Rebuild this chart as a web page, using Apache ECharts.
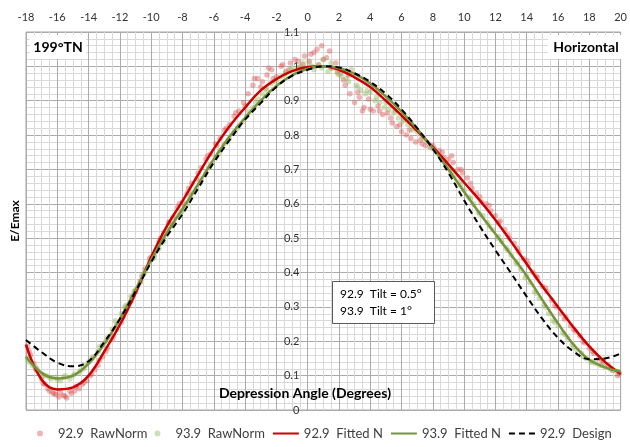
<!DOCTYPE html>
<html>
<head>
<meta charset="utf-8">
<script src="https://cdn.jsdelivr.net/npm/echarts@6/dist/echarts.min.js"></script>
<style>
html, body { margin: 0; padding: 0; background: #fff; }
#chart { width: 630px; height: 447px; }
</style>
</head>
<body>
<div id="chart"></div>
<script>
// depression angle (deg) for the fitted / design curves
var angles = [-18, -17, -16, -15, -14, -13, -12, -11, -10, -9, -8, -7, -6, -5, -4, -3, -2, -1, 0,
  1, 2, 3, 4, 5, 6, 7, 8, 9, 10, 11, 12, 13, 14, 15, 16, 17, 18, 19, 20]

var fitted929 = [0.19, 0.088, 0.06, 0.066, 0.1, 0.17, 0.248, 0.34, 0.445, 0.535, 0.608, 0.685, 0.76, 0.825, 0.88, 0.93, 0.963, 0.986, 0.998,
  1.0, 0.99, 0.968, 0.94, 0.9, 0.857, 0.812, 0.765, 0.715, 0.662, 0.61, 0.553, 0.49, 0.425, 0.36, 0.3, 0.24, 0.185, 0.14, 0.105]

var fitted939 = [0.155, 0.108, 0.092, 0.1, 0.135, 0.192, 0.265, 0.35, 0.437, 0.515, 0.585, 0.657, 0.73, 0.795, 0.85, 0.9, 0.943, 0.974, 0.993,
  1.0, 0.995, 0.978, 0.95, 0.912, 0.868, 0.818, 0.762, 0.7, 0.635, 0.572, 0.512, 0.452, 0.39, 0.32, 0.252, 0.19, 0.146, 0.124, 0.112]

var design929 = [0.204, 0.168, 0.138, 0.127, 0.142, 0.198, 0.265, 0.345, 0.43, 0.505, 0.57, 0.645, 0.72, 0.785, 0.845, 0.893, 0.94, 0.972, 0.99,
  1.0, 0.997, 0.98, 0.955, 0.92, 0.875, 0.82, 0.76, 0.69, 0.61, 0.535, 0.465, 0.398, 0.33, 0.265, 0.21, 0.17, 0.148, 0.15, 0.165]

// measured points [angle, E/Emax]
var raw929 = [
  [-17.9, 0.185], [-17.7, 0.16], [-17.5, 0.135], [-17.3, 0.115], [-17.0, 0.09], [-16.8, 0.075], [-16.6, 0.062],
  [-16.3, 0.05], [-16.1, 0.045], [-15.9, 0.038], [-15.6, 0.042], [-15.4, 0.035], [-15.1, 0.048], [-14.9, 0.055],
  [-14.6, 0.062], [-14.4, 0.075], [-14.1, 0.085], [-13.9, 0.1], [-13.6, 0.118], [-13.4, 0.13], [-13.1, 0.155],
  [-12.8, 0.18], [-12.5, 0.205], [-12.2, 0.235], [-11.9, 0.255], [-11.6, 0.29], [-11.3, 0.315], [-11.0, 0.345],
  [-10.7, 0.375], [-10.4, 0.41], [-10.1, 0.44], [-9.8, 0.455], [-9.5, 0.49], [-9.2, 0.515], [-8.9, 0.545],
  [-8.6, 0.56], [-8.3, 0.59], [-8.0, 0.605], [-7.7, 0.63], [-7.4, 0.66], [-7.1, 0.672], [-6.8, 0.705],
  [-6.5, 0.73], [-6.2, 0.745], [-5.9, 0.775], [-5.6, 0.79], [-5.3, 0.815], [-5.0, 0.83], [-4.7, 0.855],
  [-4.4, 0.87], [-4.1, 0.895], [-3.8, 0.92], [-3.5, 0.945], [-3.2, 0.965], [-2.9, 0.955], [-2.6, 0.975],
  [-2.3, 0.99], [-2.0, 0.97], [-1.7, 1.0], [-1.4, 0.985], [-1.1, 1.01], [-0.8, 1.02], [-0.5, 0.995],
  [-0.2, 1.03], [0.1, 1.015], [0.4, 1.04], [0.7, 1.005], [0.9, 1.06], [1.2, 1.025], [1.5, 0.995],
  [1.8, 1.01], [2.1, 0.98], [2.4, 0.945], [2.7, 0.92], [3.0, 0.895], [3.3, 0.91], [3.6, 0.88],
  [3.9, 0.905], [4.2, 0.87], [4.5, 0.885], [4.8, 0.86], [5.1, 0.865], [5.4, 0.835], [5.7, 0.825],
  [6.0, 0.81], [6.3, 0.8], [6.6, 0.79], [6.9, 0.78], [7.2, 0.785], [7.5, 0.77], [7.8, 0.765],
  [8.1, 0.76], [8.4, 0.755], [8.7, 0.735], [9.0, 0.73], [9.3, 0.72], [9.6, 0.7], [9.9, 0.69],
  [10.2, 0.675], [10.5, 0.645], [10.8, 0.63], [11.1, 0.605], [11.4, 0.6], [11.7, 0.58], [12.0, 0.565],
  [12.3, 0.55], [12.6, 0.525], [12.9, 0.5], [13.2, 0.485], [13.5, 0.46], [13.8, 0.44], [14.1, 0.425],
  [14.4, 0.4], [14.7, 0.385], [15.0, 0.36], [15.3, 0.345], [15.6, 0.32], [15.9, 0.3], [16.2, 0.28],
  [16.5, 0.27], [16.8, 0.245], [17.1, 0.23], [17.4, 0.215], [17.7, 0.195], [18.0, 0.18], [18.3, 0.165],
  [18.6, 0.15], [18.9, 0.14], [19.2, 0.13], [19.5, 0.115], [19.8, 0.1],
  [-17.8, 0.17], [-17.4, 0.12], [-16.9, 0.078], [-16.5, 0.055], [-16.2, 0.048], [-15.8, 0.05], [-15.5, 0.04],
  [-15.2, 0.055], [-14.8, 0.068], [-14.3, 0.08], [-13.8, 0.105], [-13.3, 0.145], [-12.9, 0.17], [-12.4, 0.215],
  [-11.8, 0.27], [-11.2, 0.33], [-10.6, 0.39], [-10.0, 0.445], [-9.4, 0.5], [-8.8, 0.548], [-8.2, 0.6],
  [-7.6, 0.645], [-7.0, 0.69], [-6.4, 0.74], [-5.8, 0.77], [-5.2, 0.82], [-4.6, 0.865], [-4.0, 0.885],
  [-3.4, 0.965], [-3.0, 0.94], [-2.5, 0.995], [-2.2, 0.965], [-1.6, 1.005], [-1.2, 0.99], [-0.6, 1.015],
  [-0.3, 1.005], [0.2, 1.035], [0.6, 1.05], [1.0, 1.02], [1.4, 1.045], [1.9, 0.985], [2.3, 0.96],
  [2.6, 0.975], [3.2, 0.925], [3.5, 0.87], [4.0, 0.875], [4.6, 0.87], [5.3, 0.85], [5.9, 0.83],
  [6.5, 0.815], [7.3, 0.775], [8.0, 0.77], [8.6, 0.75], [9.2, 0.74], [9.8, 0.7], [10.4, 0.66],
  [11.0, 0.62], [11.6, 0.595], [12.2, 0.545], [12.8, 0.51], [13.4, 0.47], [14.0, 0.435], [14.6, 0.39],
  [15.2, 0.355], [15.8, 0.305], [16.4, 0.265], [17.0, 0.235], [17.6, 0.2], [18.2, 0.17], [18.8, 0.145],
  [19.4, 0.12], [19.9, 0.105]
]

var raw939 = [
  [-17.9, 0.15], [-17.6, 0.13], [-17.3, 0.12], [-17.0, 0.105], [-16.7, 0.1], [-16.4, 0.09], [-16.1, 0.095],
  [-15.8, 0.085], [-15.5, 0.1], [-15.2, 0.09], [-14.9, 0.105], [-14.6, 0.11], [-14.3, 0.12], [-14.0, 0.14],
  [-13.7, 0.155], [-13.4, 0.17], [-13.1, 0.19], [-12.8, 0.21], [-12.5, 0.235], [-12.2, 0.25], [-11.9, 0.28],
  [-11.6, 0.305], [-11.3, 0.33], [-11.0, 0.35], [-10.7, 0.37], [-10.4, 0.4], [-10.1, 0.43], [-9.8, 0.445],
  [-9.5, 0.47], [-9.2, 0.49], [-8.9, 0.525], [-8.6, 0.54], [-8.3, 0.565], [-8.0, 0.58], [-7.7, 0.6],
  [-7.4, 0.63], [-7.1, 0.645], [-6.8, 0.67], [-6.5, 0.69], [-6.2, 0.715], [-5.9, 0.735], [-5.6, 0.755],
  [-5.3, 0.775], [-5.0, 0.79], [-4.7, 0.81], [-4.4, 0.825], [-4.1, 0.84], [-3.8, 0.87], [-3.5, 0.88],
  [-3.2, 0.905], [-2.9, 0.92], [-2.6, 0.93], [-2.3, 0.95], [-2.0, 0.955], [-1.7, 0.97], [-1.4, 0.98],
  [-1.1, 0.99], [-0.8, 0.985], [-0.5, 1.0], [-0.2, 0.995], [0.1, 1.01], [0.4, 0.99], [0.7, 1.005],
  [1.0, 1.02], [1.3, 0.985], [1.6, 0.995], [1.9, 0.98], [2.2, 0.97], [2.5, 0.965], [2.8, 0.99],
  [3.1, 0.945], [3.4, 0.93], [3.7, 0.92], [4.0, 0.925], [4.3, 0.9], [4.6, 0.895], [4.9, 0.88],
  [5.2, 0.875], [5.5, 0.865], [5.8, 0.85], [6.1, 0.84], [6.4, 0.83], [6.7, 0.815], [7.0, 0.81],
  [7.3, 0.795], [7.6, 0.78], [7.9, 0.765], [8.2, 0.75], [8.5, 0.735], [8.8, 0.715], [9.1, 0.7],
  [9.4, 0.685], [9.7, 0.665], [10.0, 0.64], [10.3, 0.62], [10.6, 0.6], [10.9, 0.575], [11.2, 0.565],
  [11.5, 0.545], [11.8, 0.525], [12.1, 0.5], [12.4, 0.49], [12.7, 0.47], [13.0, 0.45], [13.3, 0.43],
  [13.6, 0.41], [13.9, 0.385], [14.2, 0.37], [14.5, 0.345], [14.8, 0.325], [15.1, 0.305], [15.4, 0.28],
  [15.7, 0.26], [16.0, 0.245], [16.3, 0.225], [16.6, 0.21], [16.9, 0.19], [17.2, 0.175], [17.5, 0.165],
  [17.8, 0.15], [18.1, 0.14], [18.4, 0.135], [18.7, 0.13], [19.0, 0.125], [19.3, 0.12], [19.6, 0.115],
  [19.9, 0.11],
  [-17.8, 0.14], [-17.4, 0.125], [-16.9, 0.1], [-16.5, 0.095], [-16.0, 0.088], [-15.6, 0.095], [-15.0, 0.1],
  [-14.5, 0.115], [-14.2, 0.13], [-13.8, 0.15], [-13.3, 0.185], [-12.9, 0.2], [-12.3, 0.26], [-11.7, 0.3],
  [-11.1, 0.345], [-10.5, 0.395], [-9.9, 0.44], [-9.3, 0.49], [-8.7, 0.535], [-8.1, 0.575], [-7.5, 0.62],
  [-6.9, 0.66], [-6.3, 0.705], [-5.7, 0.745], [-5.1, 0.785], [-4.5, 0.82], [-3.9, 0.855], [-3.3, 0.895],
  [-2.7, 0.935], [-2.1, 0.96], [-1.5, 0.975], [-0.9, 0.995], [-0.3, 1.01], [0.3, 1.0], [0.9, 0.995],
  [1.5, 1.01], [2.0, 0.975], [2.6, 0.955], [3.2, 0.94], [3.8, 0.93], [4.4, 0.91], [5.0, 0.895],
  [5.6, 0.87], [6.2, 0.845], [6.8, 0.82], [7.4, 0.79], [8.0, 0.76], [8.6, 0.73], [9.2, 0.695],
  [9.8, 0.655], [10.4, 0.615], [11.0, 0.57], [11.6, 0.535], [12.2, 0.505], [12.8, 0.465], [13.4, 0.425],
  [14.0, 0.39], [14.6, 0.34], [15.2, 0.3], [15.8, 0.255], [16.4, 0.22], [17.0, 0.185], [17.6, 0.155],
  [18.2, 0.14], [18.8, 0.13], [19.4, 0.12], [19.8, 0.112]
]

var tiltNotes = ['92.9  Tilt = 0.5°', '93.9  Tilt = 1°']

function toPairs(ys) {
  return angles.map(function(a, i) {
    return [a, ys[i]]
  })
}

var font = 'Lato, "Open Sans", sans-serif'
var gridLeft = 26
var gridRight = 6
var mychart = echarts.init(document.getElementById('chart'))

// the value axis sits on angle 0, inside the plot
var plotWidth = 630 - gridLeft - gridRight
var zeroOffset = -plotWidth * (0 - angles[0]) / (angles[angles.length - 1] - angles[0])

// legend entry for a line series: hide the dot ECharts puts in the middle
function lineLegend(name) {
  return { name: name, itemStyle: { opacity: 0 } }
}

var option = {
  backgroundColor: '#fff',
  animation: false,
  textStyle: { fontFamily: font },
  grid: {
    left: gridLeft,
    right: gridRight,
    top: 32,
    bottom: 37,
    show: true,
    borderColor: '#a6a6a6',
    borderWidth: 1
  },
  legend: {
    top: 422,
    left: 37,
    width: 590,
    padding: [5, 0],
    itemGap: 7,
    itemWidth: 26,
    itemHeight: 6,
    textStyle: { fontSize: 13, color: '#404040', fontFamily: font },
    data: ['92.9  RawNorm', '93.9  RawNorm', lineLegend('92.9  Fitted N'), lineLegend('93.9  Fitted N'), lineLegend('92.9  Design')]
  },
  xAxis: {
    type: 'value',
    position: 'top',
    min: -18,
    max: 20,
    interval: 2,
    axisLine: { show: false, onZero: false },
    axisTick: { show: false },
    axisLabel: { color: '#333', fontSize: 11, margin: 9 },
    splitLine: { lineStyle: { color: '#ababab' } },
    minorTick: { show: false, splitNumber: 4 },
    minorSplitLine: { show: true, lineStyle: { color: '#d9d9d9' } }
  },
  yAxis: {
    type: 'value',
    position: 'left',
    offset: zeroOffset,
    min: 0,
    max: 1.1,
    interval: 0.1,
    axisLine: { show: false, onZero: false },
    axisTick: { show: false },
    axisLabel: { color: '#333', fontSize: 11, margin: 10 },
    splitLine: { lineStyle: { color: '#ababab' } },
    minorTick: { show: false, splitNumber: 5 },
    minorSplitLine: { show: true, lineStyle: { color: '#d9d9d9' } }
  },
  series: [
    {
      name: '92.9  RawNorm',
      type: 'scatter',
      symbolSize: 5.5,
      itemStyle: { color: 'rgba(218, 85, 85, 0.55)' },
      data: raw929
    },
    {
      name: '93.9  RawNorm',
      type: 'scatter',
      symbolSize: 5.5,
      itemStyle: { color: 'rgba(150, 185, 100, 0.55)' },
      data: raw939
    },
    {
      name: '92.9  Fitted N',
      type: 'line',
      smooth: 0.4,
      symbol: 'none',
      itemStyle: { color: '#cc0000' },
      lineStyle: { color: '#cc0000', width: 2.5 },
      data: toPairs(fitted929)
    },
    {
      name: '93.9  Fitted N',
      type: 'line',
      smooth: 0.4,
      symbol: 'none',
      itemStyle: { color: '#77933c' },
      lineStyle: { color: '#77933c', width: 2.5 },
      data: toPairs(fitted939)
    },
    {
      name: '92.9  Design',
      type: 'line',
      smooth: 0.4,
      symbol: 'none',
      itemStyle: { color: '#000' },
      lineStyle: { color: '#000', width: 2, type: [6, 4] },
      data: toPairs(design929)
    }
  ],
  graphic: [
    { type: 'rect', shape: { x: 30, y: 35, width: 56, height: 24 }, style: { fill: '#fff' }, z: 10 },
    { type: 'text', x: 58, y: 47, z: 11, style: { text: '199°TN', font: 'bold 14px ' + font, fill: '#000', align: 'center', verticalAlign: 'middle' } },
    { type: 'rect', shape: { x: 548, y: 35, width: 74, height: 24 }, style: { fill: '#fff' }, z: 10 },
    { type: 'text', x: 586, y: 47, z: 11, style: { text: 'Horizontal', font: 'bold 14px ' + font, fill: '#000', align: 'center', verticalAlign: 'middle' } },
    { type: 'text', x: 15, y: 221, rotation: Math.PI / 2, z: 11, style: { text: 'E/Emax', font: 'bold 12px ' + font, fill: '#000', align: 'center', verticalAlign: 'middle' } },
    { type: 'text', x: 305, y: 393, z: 11, style: { text: 'Depression Angle (Degrees)', font: 'bold 14px ' + font, fill: '#000', align: 'center', verticalAlign: 'middle' } },
    { type: 'rect', shape: { x: 332.5, y: 281.5, width: 102, height: 42 }, style: { fill: '#fff', stroke: '#595959', lineWidth: 1 }, z: 10 },
    { type: 'text', x: 340, y: 294, z: 11, style: { text: tiltNotes[0], font: '12px ' + font, fill: '#000', align: 'left', verticalAlign: 'middle' } },
    { type: 'text', x: 340, y: 311, z: 11, style: { text: tiltNotes[1], font: '12px ' + font, fill: '#000', align: 'left', verticalAlign: 'middle' } }
  ]
}
mychart.setOption(option)
</script>
</body>
</html>
